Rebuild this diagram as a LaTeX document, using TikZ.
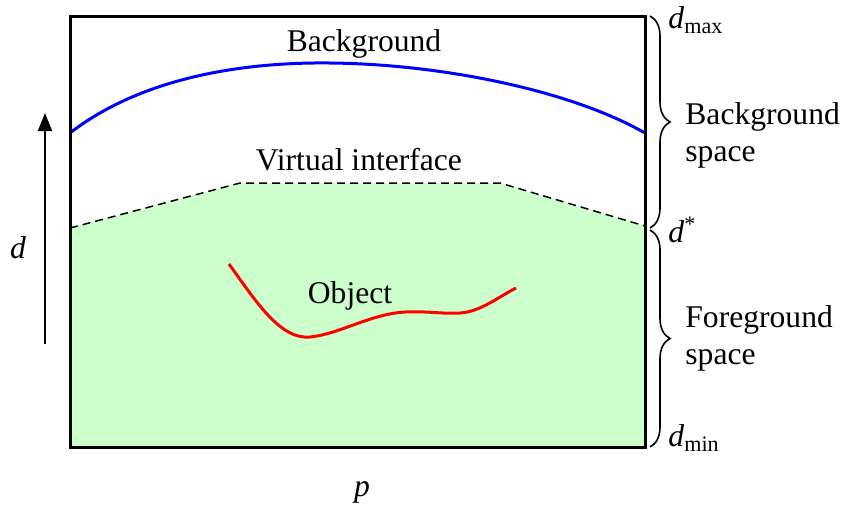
\documentclass[tikz,border=0pt]{standalone}
\usepackage{fontspec}
\setmainfont{Liberation Serif}
\newfontfamily\timesfont{Liberation Serif}
\usetikzlibrary{arrows.meta,decorations.pathreplacing}
\definecolor{objgreen}{HTML}{CCFFCC}
\definecolor{bgblue}{HTML}{0000FF}
\definecolor{objred}{HTML}{FF0000}

\begin{document}
\begin{tikzpicture}[x=.5pt,y=-.5pt,font=\timesfont\fontsize{15.8}{18.5}\selectfont,
  brc/.style={decorate,decoration={brace,amplitude=10pt},line width=.8pt},
  side/.style={anchor=west,align=left,inner sep=0pt}]
\useasboundingbox (0,0) rectangle (844,510);
% foreground region below the virtual interface
\fill[objgreen] (70,228)--(240,183)--(500,183)--(645,226)--(645,447)--(70,447)--cycle;
\draw[line width=.75pt,dash pattern=on 4pt off 2.5pt] (70,228)--(240,183)--(500,183)--(645,226);
\draw[bgblue,line width=1.5pt] (70,133) .. controls (145,75) and (250,62) .. (330,63)
  .. controls (440,64) and (570,90) .. (645,133);
\draw[objred,line width=1.5pt] (229,264) .. controls (255,300) and (280,340) .. (310,337)
  .. controls (340,334) and (370,314) .. (405,312) .. controls (430,311) and (440,314) .. (460,313)
  .. controls (480,312) and (500,296) .. (516,288);
\draw[line width=1.5pt] (70,16) rectangle (645,447);
\node (bg) at (364,44) {Background};
\node (vi) at (359,160) {Virtual interface};
\node (obj) at (350,296) {Object};
% depth axis
\coordinate (dlow) at (45,344);
\coordinate (dtop) at (45,113);
\draw[line width=1pt,-{Triangle[width=7pt,length=9pt]}] (dlow) -- (dtop);
\node (d) at (18,248) {\textit{d}};
\node (p) at (362,492) {\textit{p}};
% braces on the right
\draw[brc] (650,16) -- (650,228);
\draw[brc] (650,230) -- (650,447);
\node[side] (dmax) at (668,20) {\textit{d}\textsubscript{max}};
\node[side] (dstar) at (668,230) {\textit{d}\textsuperscript{*}};
\node[side] (dmin) at (668,438) {\textit{d}\textsubscript{min}};
\node[side] (bgs) at (685,135) {Background\\space};
\node[side] (fgs) at (685,338) {Foreground\\space};
\end{tikzpicture}
\end{document}
